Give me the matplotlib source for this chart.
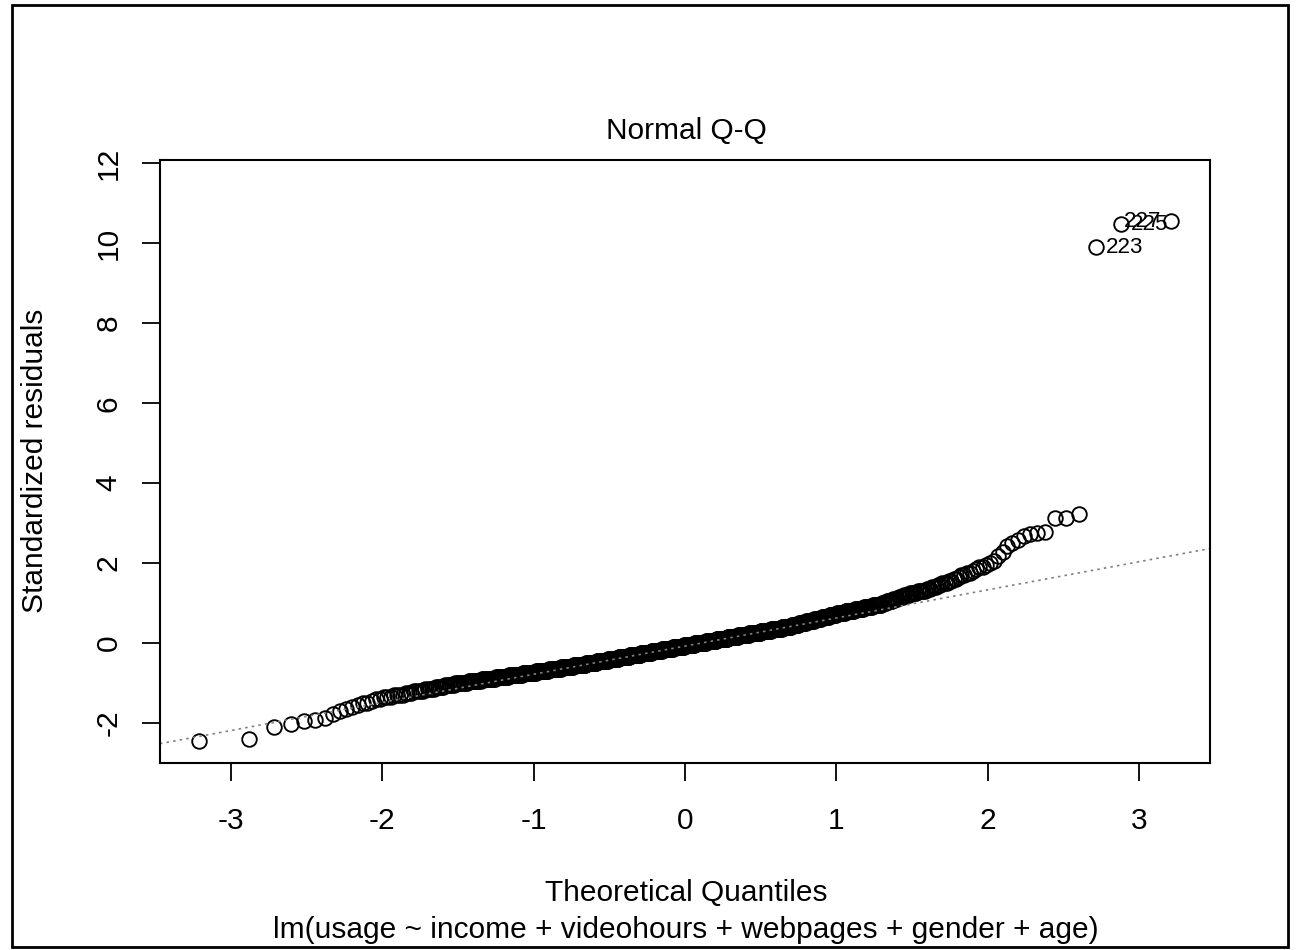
# Normal Q-Q plot of the standardized residuals of a linear model
##############################################################################

# IMPORT STATEMENTS
##############################################################################
import numpy as np
import matplotlib
matplotlib.use('Agg')
import matplotlib.pyplot as plt
from matplotlib.patches import Rectangle
from statistics import NormalDist


# DATA
##############################################################################
# smallest residuals, one value per point (sorted)
low_tail = [-2.44, -2.39, -2.09, -2.02, -1.95, -1.92, -1.87, -1.77]

# body of the sample: residual value (to 0.05) and number of points at it
body_levels = [-1.70, -1.65, -1.60, -1.55, -1.50, -1.45, -1.40, -1.35, -1.30,
               -1.25, -1.20, -1.15, -1.10, -1.05, -1.00, -0.95, -0.90, -0.85,
               -0.80, -0.75, -0.70, -0.65, -0.60, -0.55, -0.50, -0.45, -0.40,
               -0.35, -0.30, -0.25, -0.20, -0.15, -0.10, -0.05, 0.00, 0.05,
               0.10, 0.15, 0.20, 0.25, 0.30, 0.35, 0.40, 0.45, 0.50, 0.55,
               0.60, 0.65, 0.70, 0.75, 0.80, 0.85, 0.90, 0.95, 1.00, 1.05,
               1.10, 1.15, 1.20, 1.25, 1.30, 1.35, 1.40, 1.45, 1.50, 1.55,
               1.60, 1.65, 1.70, 1.75, 1.80, 1.85, 1.90, 1.95, 2.00, 2.05]
body_counts = [1, 1, 1, 1, 2, 1, 2, 3, 4,
               3, 5, 5, 5, 6, 9, 10, 12, 13,
               14, 16, 16, 17, 18, 19, 18, 19, 19,
               20, 20, 21, 21, 21, 22, 21, 22, 21,
               21, 20, 20, 20, 18, 18, 15, 11, 11, 11,
               10, 10, 9, 10, 10, 9, 9, 8, 4, 5,
               4, 4, 4, 5, 5, 3, 3, 2, 3, 2,
               2, 1, 2, 2, 1, 1, 2, 1, 1, 1]

# largest residuals, one value per point (sorted)
high_tail = [2.17, 2.29, 2.42, 2.50, 2.59, 2.67, 2.73, 2.75, 2.79,
             3.12, 3.12, 3.22, 9.90, 10.47, 10.55]

# observation numbers of the three largest residuals
outlier_ids = ['223', '225', '227']

title = 'Normal Q-Q'
xlab = 'Theoretical Quantiles'
ylab = 'Standardized residuals'
model_call = 'lm(usage ~ income + videohours + webpages + gender + age)'


# FUNCTIONS
##############################################################################
# function:   buildResiduals
# purpose:    puts the tails and the binned body together in one sorted array
# return:     numpy array of residuals
def buildResiduals():
    body = np.repeat(body_levels, body_counts)
    return np.sort(np.concatenate([low_tail, body, high_tail]))


# function:   theoreticalQuantiles
# purpose:    normal quantiles at the plotting positions (i - 0.5) / n
# parameters: sample size
# return:     numpy array
def theoreticalQuantiles(n):
    nd = NormalDist()
    return np.array([nd.inv_cdf((i - 0.5) / n) for i in range(1, n + 1)])


# function:   qqLine
# purpose:    line through the first and third quartiles
# return:     intercept, slope
def qqLine(resid):
    nd = NormalDist()
    y1, y2 = np.percentile(resid, [25, 75])
    x1, x2 = nd.inv_cdf(0.25), nd.inv_cdf(0.75)
    slope = (y2 - y1) / (x2 - x1)
    return y1 - slope * x1, slope


# MAIN SCRIPT
##############################################################################
plt.rcParams['font.family'] = ['Liberation Sans', 'DejaVu Sans']
plt.rcParams['axes.unicode_minus'] = False
fs = 21.5

resid = buildResiduals()
theo = theoreticalQuantiles(len(resid))
b0, b1 = qqLine(resid)

fig = plt.figure(figsize=(12.98, 9.5), dpi=100)
ax = fig.add_axes([160 / 1298, 187 / 950, 1050 / 1298, 603 / 950])

ax.plot(theo, resid, 'o', mfc='none', mec='black', ms=10.5, mew=1.35)
ax.axline((0, b0), slope=b1, color='#7f7f7f', lw=1.2, ls=(0, (1.5, 2.5)))

# label the three largest residuals
top_x = theo[-3:]
top_y = resid[-3:]
mid = (top_x.min() + top_x.max()) / 2
for xx, yy, lab in zip(top_x, top_y, outlier_ids):
    if xx > mid:
        ax.annotate(lab, (xx, yy), xytext=(-7, 0), textcoords='offset points',
                    ha='right', va='center', fontsize=fs * 0.75,
                    annotation_clip=False)
    else:
        ax.annotate(lab, (xx, yy), xytext=(7, 0), textcoords='offset points',
                    ha='left', va='center', fontsize=fs * 0.75,
                    annotation_clip=False)

xr = theo.max() - theo.min()
ax.set_xlim(theo.min() - 0.04 * xr, theo.max() + 0.04 * xr)
ytop = resid.max() + 0.075 * (resid.max() - resid.min())
yr = ytop - resid.min()
ax.set_ylim(resid.min() - 0.04 * yr, ytop + 0.04 * yr)

ax.set_xticks(range(-3, 4))
ax.set_yticks(range(-2, 13, 2))
ax.tick_params(direction='out', length=13, width=1.3, labelsize=fs)
ax.tick_params(axis='x', pad=19)
ax.tick_params(axis='y', pad=14)
plt.setp(ax.get_yticklabels(), rotation=90, va='center')
for s in ax.spines.values():
    s.set_linewidth(1.5)

fig.text(686 / 1298, 1 - 131 / 950, title, ha='center', va='center', fontsize=fs)
fig.text(686 / 1298, 1 - 893 / 950, xlab, ha='center', va='center', fontsize=fs)
fig.text(686 / 1298, 1 - 930 / 950, model_call, ha='center', va='center', fontsize=fs)
fig.text(35 / 1298, 1 - 461 / 950, ylab, ha='center', va='center', fontsize=fs,
         rotation=90)

fig.patches.append(Rectangle((12 / 1298, 3 / 950), 1276 / 1298, 942 / 950,
                             transform=fig.transFigure, fill=False,
                             ec='black', lw=2))

fig.savefig('out.png', dpi=100)
